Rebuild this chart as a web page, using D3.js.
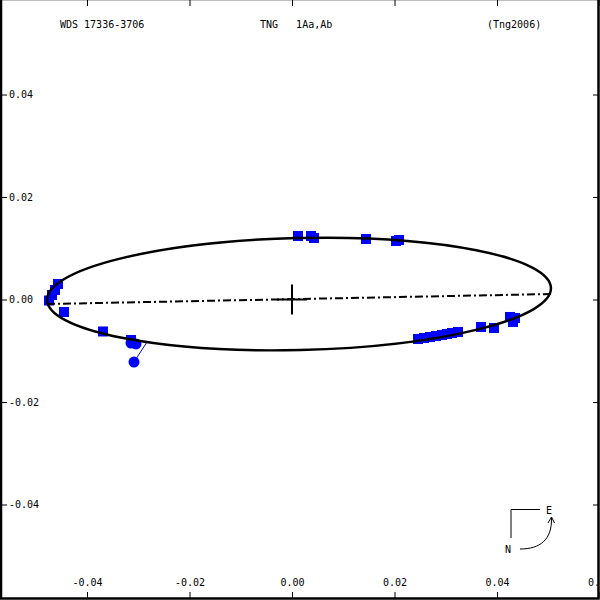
<!DOCTYPE html>
<html>
<head>
<meta charset="utf-8">
<script src="https://cdn.jsdelivr.net/npm/d3@7"></script>
<style>
  html, body { margin: 0; padding: 0; background: #fff; }
  svg { display: block; }
  text { font-family: "DejaVu Sans Mono", monospace; font-size: 10px; fill: #000; }
</style>
</head>
<body>
<svg id="chart" width="600" height="600"></svg>
<script>
// ---- data (arcsec offsets) ----
const titleLeft = "WDS 17336-3706";
const titleMid = "TNG   1Aa,Ab";
const titleRight = "(Tng2006)";

const xTicks = [-0.04, -0.02, 0.00, 0.02, 0.04, 0.06];
const yTicks = [-0.04, -0.02, 0.00, 0.02, 0.04];

// measured positions, squares (x, y)
const squaresX = [-0.04566, -0.04624, -0.04683, -0.04741, -0.04449, -0.03688, -0.03141,
                  0.00117, 0.00371, 0.00429, 0.01444, 0.02029, 0.02088,
                  0.02459, 0.02576, 0.02693, 0.02810, 0.02927, 0.03024, 0.03122, 0.03239,
                  0.03688, 0.03941, 0.04254, 0.04351, 0.04312];
const squaresY = [0.00302, 0.00185, 0.00088, -0.00020, -0.00244, -0.00624, -0.00790,
                  0.01239, 0.01239, 0.01200, 0.01180, 0.01141, 0.01161,
                  -0.00771, -0.00751, -0.00732, -0.00712, -0.00693, -0.00673, -0.00654, -0.00634,
                  -0.00537, -0.00556, -0.00341, -0.00361, -0.00439];

// measured positions, circles
const circlesX = [-0.03141, -0.03044, -0.03083];
const circlesY = [-0.00849, -0.00868, -0.01220];
// residual line: circle index -> predicted position on orbit
const residualFrom = [2];
const residualToX = [-0.02829];
const residualToY = [-0.00829];

// apparent orbit ellipse
const ellCenter = [0.00137, 0.00107];
const ellSemiMajor = 0.04917;
const ellSemiMinor = 0.01093;
const ellAngleDeg = 1.36;

// line of nodes
const nodesX = [-0.0478, 0.05054];
const nodesY = [-0.00088, 0.00107];

// ---- drawing ----
const W = 600, H = 600;
const svg = d3.select("#chart");

const x = d3.scaleLinear().domain([-0.04, 0.04]).range([87, 497]);
const y = d3.scaleLinear().domain([-0.04, 0.04]).range([504.5, 94.5]);
const fmt = d => (Math.abs(d) < 1e-9 ? "0.00" : d.toFixed(2));

// frame
svg.append("rect").attr("x", 1).attr("y", -1).attr("width", 597.5).attr("height", 599.5)
  .attr("fill", "none").attr("stroke", "#000").attr("stroke-width", 2.5);

// bottom axis (labels above, ticks up)
const gB = svg.append("g").attr("transform", "translate(0,598)")
  .call(d3.axisTop(x).tickValues(xTicks).tickSize(6).tickPadding(6).tickFormat(fmt));
// top axis (ticks down, no labels)
const gT = svg.append("g").attr("transform", "translate(0,0)")
  .call(d3.axisBottom(x).tickValues(xTicks).tickSize(6).tickFormat(""));
// left axis (ticks right, labels right)
const gL = svg.append("g").attr("transform", "translate(1,0)")
  .call(d3.axisRight(y).tickValues(yTicks).tickSize(6).tickPadding(2).tickFormat(fmt));
// right axis
const gR = svg.append("g").attr("transform", "translate(598,0)")
  .call(d3.axisLeft(y).tickValues(yTicks).tickSize(5).tickFormat(""));

[gB, gT, gL, gR].forEach(g => {
  g.select(".domain").remove();
  g.selectAll(".tick line").attr("stroke", "#000").attr("stroke-width", 1);
  g.selectAll("text").attr("font-family", "DejaVu Sans Mono").attr("font-size", 10).attr("fill", "#000");
});

// titles
svg.append("text").attr("x", 60).attr("y", 28).text(titleLeft).attr("xml:space", "preserve");
svg.append("text").attr("x", 260).attr("y", 28).attr("xml:space", "preserve").style("white-space", "pre").text(titleMid);
svg.append("text").attr("x", 487).attr("y", 28).text(titleRight);

// points
const blue = "#0000ff";
const sq = 10;
svg.append("g").selectAll("rect").data(d3.range(squaresX.length)).join("rect")
  .attr("x", i => x(squaresX[i]) - sq / 2)
  .attr("y", i => y(squaresY[i]) - sq / 2)
  .attr("width", sq).attr("height", sq).attr("fill", blue);

svg.append("g").selectAll("line").data(d3.range(residualFrom.length)).join("line")
  .attr("x1", i => x(circlesX[residualFrom[i]]))
  .attr("y1", i => y(circlesY[residualFrom[i]]))
  .attr("x2", i => x(residualToX[i]))
  .attr("y2", i => y(residualToY[i]))
  .attr("stroke", blue).attr("stroke-width", 1);

svg.append("g").selectAll("circle").data(d3.range(circlesX.length)).join("circle")
  .attr("cx", i => x(circlesX[i]))
  .attr("cy", i => y(circlesY[i]))
  .attr("r", 5.5).attr("fill", blue);

// line of nodes (dash-dot)
svg.append("line")
  .attr("x1", x(nodesX[0])).attr("y1", y(nodesY[0]))
  .attr("x2", x(nodesX[1])).attr("y2", y(nodesY[1]))
  .attr("stroke", "#000").attr("stroke-width", 2)
  .attr("stroke-dasharray", "8,3,2,3");

// orbit ellipse
const ecx = x(ellCenter[0]), ecy = y(ellCenter[1]);
svg.append("ellipse")
  .attr("cx", ecx).attr("cy", ecy)
  .attr("rx", x(ellSemiMajor) - x(0))
  .attr("ry", y(0) - y(ellSemiMinor))
  .attr("transform", `rotate(${-ellAngleDeg},${ecx},${ecy})`)
  .attr("fill", "none").attr("stroke", "#000").attr("stroke-width", 2.5);

// primary cross
const px0 = x(0), py0 = y(0);
svg.append("line").attr("x1", px0 - 15).attr("x2", px0 + 15).attr("y1", py0).attr("y2", py0)
  .attr("stroke", "#000").attr("stroke-width", 2);
svg.append("line").attr("x1", px0).attr("x2", px0).attr("y1", py0 - 15).attr("y2", py0 + 15)
  .attr("stroke", "#000").attr("stroke-width", 2);

// compass
const cg = svg.append("g");
cg.append("path").attr("d", "M540,509.5 H511 V538").attr("fill", "none").attr("stroke", "#000").attr("stroke-width", 1);
cg.append("text").attr("x", 546).attr("y", 514).text("E");
cg.append("text").attr("x", 505).attr("y", 553).text("N");
cg.append("path").attr("d", "M520,549 C540,549 552,540 551.5,518").attr("fill", "none").attr("stroke", "#000").attr("stroke-width", 1);
cg.append("path").attr("d", "M548,523 L551.5,517 L554.5,523").attr("fill", "none").attr("stroke", "#000").attr("stroke-width", 1);
</script>
</body>
</html>
